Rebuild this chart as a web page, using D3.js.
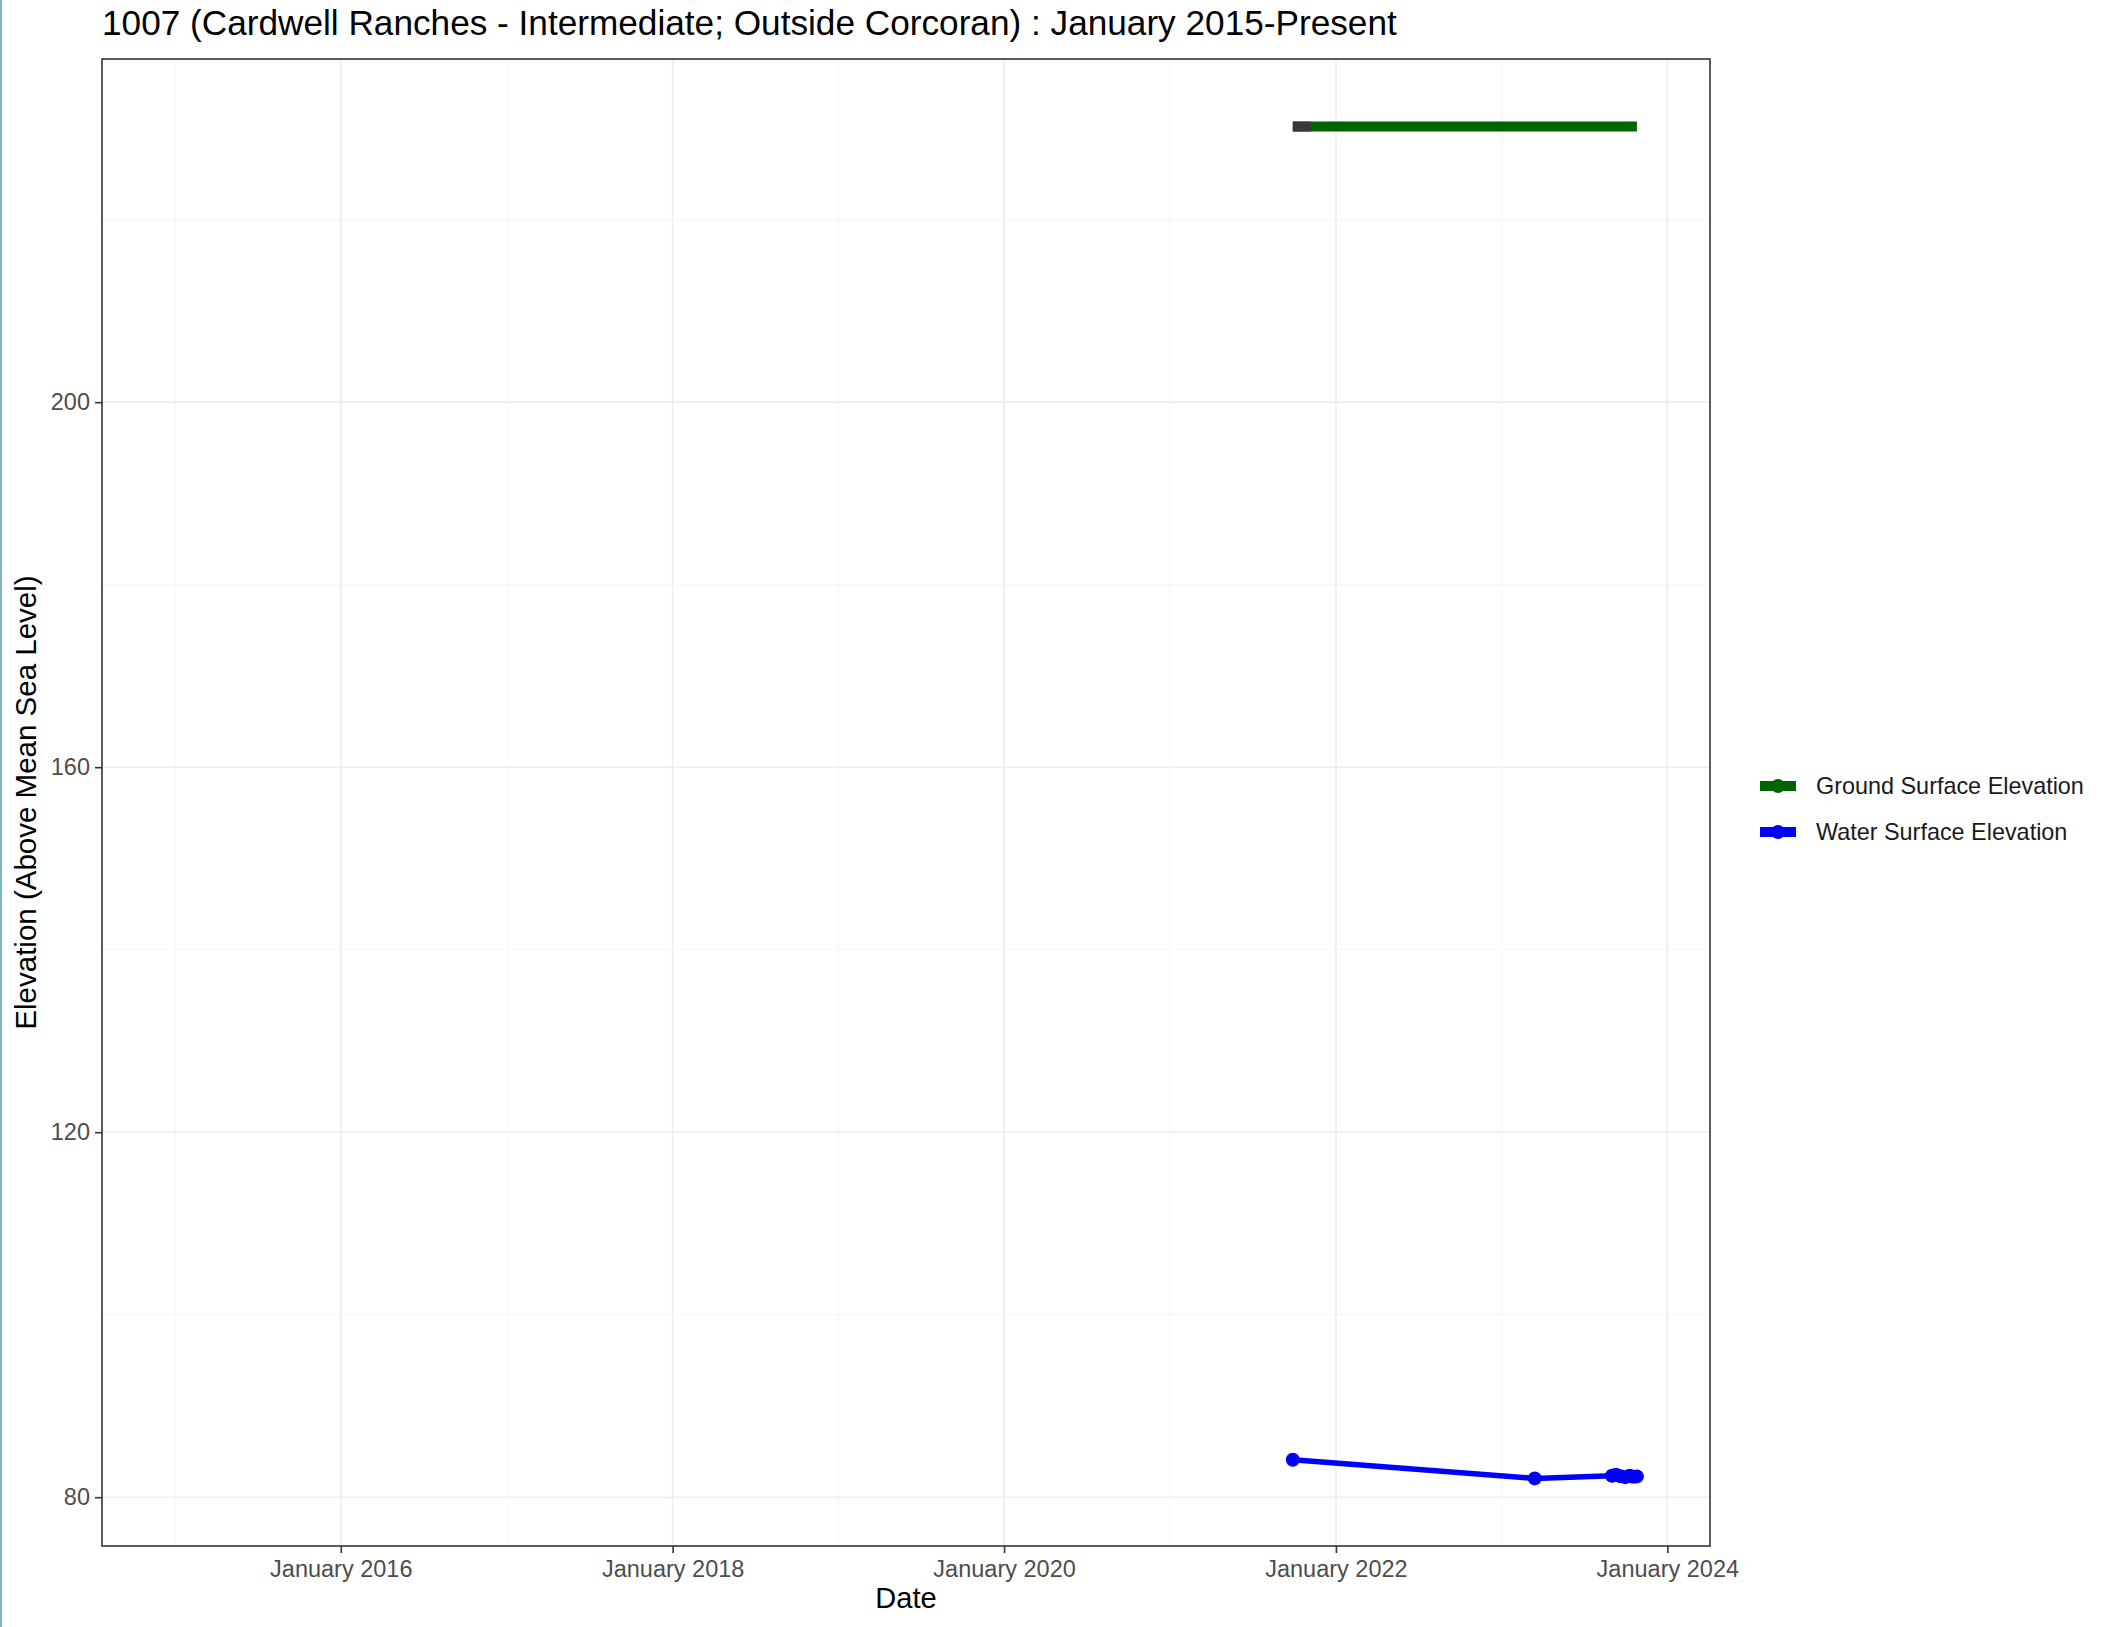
<!DOCTYPE html>
<html>
<head>
<meta charset="utf-8">
<script src="https://cdn.jsdelivr.net/npm/d3@7"></script>
<style>
  html, body { margin: 0; padding: 0; background: #ffffff; }
  svg { display: block; }
  text { font-family: "Liberation Sans", Arial, sans-serif; }
</style>
</head>
<body>
<script>
// ---------- data ----------
const titleText = "1007 (Cardwell Ranches - Intermediate; Outside Corcoran) : January 2015-Present";
const dateStart = "2015-01-01";
const waterDates = ["2021-09-28", "2023-03-15", "2023-09-01", "2023-09-10", "2023-09-20", "2023-09-30", "2023-10-10", "2023-10-18", "2023-10-26"];
const waterValues = [84.1, 82.06, 82.35, 82.45, 82.3, 82.2, 82.35, 82.25, 82.28];
const groundDates = ["2021-09-28", "2023-10-26"];
const groundValues = [230.2, 230.2];
const groundStartDates = ["2021-09-28", "2021-11-07"];
const groundStartValues = [230.2, 230.2];
const xTickDates = ["2016-01-01", "2018-01-01", "2020-01-01", "2022-01-01", "2024-01-01"];
const xTickLabels = ["January 2016", "January 2018", "January 2020", "January 2022", "January 2024"];
const xMinorDates = ["2015-01-01", "2017-01-01", "2019-01-01", "2021-01-01", "2023-01-01"];
const yTicks = [80, 120, 160, 200];
const yMinor = [100, 140, 180, 220];
const legendLabels = ["Ground Surface Elevation", "Water Surface Elevation"];
const legendColors = ["#006400", "#0000ff"];

// ---------- layout ----------
const W = 2110, H = 1627;
const P = { left: 102, right: 1710, top: 59, bottom: 1546 };
const parse = d3.timeParse("%Y-%m-%d");

const svg = d3.select("body").append("svg").attr("width", W).attr("height", H);
svg.append("rect").attr("width", W).attr("height", H).attr("fill", "#ffffff");
svg.append("rect").attr("x", 0).attr("y", 0).attr("width", 2).attr("height", H).attr("fill", "#7fb2cf");

// domains with 5% expansion
const allDates = [dateStart, ...waterDates, ...groundDates].map(parse);
const xMin = d3.min(allDates), xMax = d3.max(allDates);
const xSpan = xMax - xMin;
const x = d3.scaleTime()
  .domain([new Date(+xMin - 0.05 * xSpan), new Date(+xMax + 0.05 * xSpan)])
  .range([P.left, P.right]);
const allVals = [...waterValues, ...groundValues];
const yMinV = d3.min(allVals), yMaxV = d3.max(allVals);
const ySpan = yMaxV - yMinV;
const y = d3.scaleLinear()
  .domain([yMinV - 0.05 * ySpan, yMaxV + 0.05 * ySpan])
  .range([P.bottom, P.top]);

// grid
const grid = svg.append("g");
xMinorDates.map(parse).forEach(d => {
  grid.append("line").attr("x1", x(d)).attr("x2", x(d)).attr("y1", P.top).attr("y2", P.bottom)
    .attr("stroke", "#f5f5f5").attr("stroke-width", 1);
});
yMinor.forEach(v => {
  grid.append("line").attr("x1", P.left).attr("x2", P.right).attr("y1", y(v)).attr("y2", y(v))
    .attr("stroke", "#f5f5f5").attr("stroke-width", 1);
});
xTickDates.map(parse).forEach(d => {
  grid.append("line").attr("x1", x(d)).attr("x2", x(d)).attr("y1", P.top).attr("y2", P.bottom)
    .attr("stroke", "#ededed").attr("stroke-width", 1.6);
});
yTicks.forEach(v => {
  grid.append("line").attr("x1", P.left).attr("x2", P.right).attr("y1", y(v)).attr("y2", y(v))
    .attr("stroke", "#ededed").attr("stroke-width", 1.6);
});

// series
const lineGen = d3.line().x(d => x(d[0])).y(d => y(d[1]));
const ground = groundDates.map((d, i) => [parse(d), groundValues[i]]);
const groundStart = groundStartDates.map((d, i) => [parse(d), groundStartValues[i]]);
const water = waterDates.map((d, i) => [parse(d), waterValues[i]]);

svg.append("path").datum(ground).attr("d", lineGen)
  .attr("fill", "none").attr("stroke", legendColors[0]).attr("stroke-width", 10);
svg.append("path").datum(groundStart).attr("d", lineGen)
  .attr("fill", "none").attr("stroke", "#383838").attr("stroke-width", 10);

svg.append("path").datum(water).attr("d", lineGen)
  .attr("fill", "none").attr("stroke", legendColors[1]).attr("stroke-width", 5.5)
  .attr("stroke-linejoin", "round");
svg.append("g").selectAll("circle").data(water).join("circle")
  .attr("cx", d => x(d[0])).attr("cy", d => y(d[1])).attr("r", 7)
  .attr("fill", legendColors[1]);

// panel border
svg.append("rect").attr("x", P.left).attr("y", P.top)
  .attr("width", P.right - P.left).attr("height", P.bottom - P.top)
  .attr("fill", "none").attr("stroke", "#333333").attr("stroke-width", 1.6);

// axes
const xAxis = d3.axisBottom(x)
  .tickValues(xTickDates.map(parse))
  .tickFormat((d, i) => xTickLabels[i])
  .tickSize(7).tickPadding(7);
const gx = svg.append("g").attr("transform", `translate(0,${P.bottom})`).call(xAxis);
gx.select(".domain").remove();
gx.selectAll(".tick line").attr("stroke", "#333333").attr("stroke-width", 1.6);
gx.selectAll(".tick text").attr("fill", "#4d4d4d").attr("font-size", 23.5)
  .attr("font-family", "Liberation Sans, Arial, sans-serif");

const yAxis = d3.axisLeft(y).tickValues(yTicks).tickFormat(d3.format("d"))
  .tickSize(7).tickPadding(5);
const gy = svg.append("g").attr("transform", `translate(${P.left},0)`).call(yAxis);
gy.select(".domain").remove();
gy.selectAll(".tick line").attr("stroke", "#333333").attr("stroke-width", 1.6);
gy.selectAll(".tick text").attr("fill", "#4d4d4d").attr("font-size", 23.5)
  .attr("font-family", "Liberation Sans, Arial, sans-serif");

// titles
svg.append("text").attr("x", P.left).attr("y", 35).attr("font-size", 35.2).attr("fill", "#000")
  .text(titleText);
svg.append("text").attr("x", (P.left + P.right) / 2).attr("y", 1608).attr("text-anchor", "middle")
  .attr("font-size", 29).attr("fill", "#000").text("Date");
svg.append("text").attr("transform", `translate(36,${(P.top + P.bottom) / 2}) rotate(-90)`)
  .attr("text-anchor", "middle").attr("font-size", 29.5).attr("fill", "#000")
  .text("Elevation (Above Mean Sea Level)");

// legend
const lg = svg.append("g");
const legendY = [786, 832];
legendLabels.forEach((lab, i) => {
  lg.append("line").attr("x1", 1760).attr("x2", 1796).attr("y1", legendY[i]).attr("y2", legendY[i])
    .attr("stroke", legendColors[i]).attr("stroke-width", 10);
  lg.append("circle").attr("cx", 1778).attr("cy", legendY[i]).attr("r", 7).attr("fill", legendColors[i]);
  lg.append("text").attr("x", 1816).attr("y", legendY[i] + 8).attr("font-size", 23.4).attr("fill", "#1a1a1a")
    .text(lab);
});
</script>
</body>
</html>
